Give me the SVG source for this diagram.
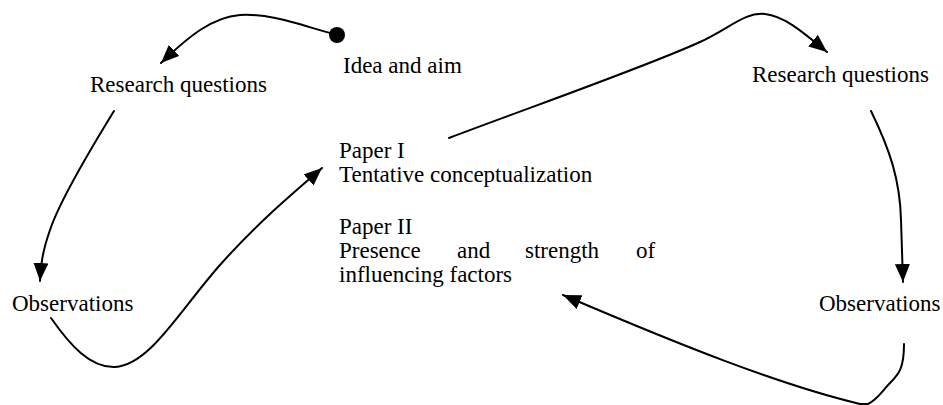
<svg xmlns="http://www.w3.org/2000/svg" width="943" height="405" viewBox="0 0 943 405">
<style>
text{font-family:"Liberation Serif","Times New Roman",serif;font-size:23px;fill:#000}
.c{fill:none;stroke:#000;stroke-width:2;stroke-linecap:round;stroke-linejoin:round}
</style>
<defs>
<marker id="ah" viewBox="0 0 18 15" refX="18" refY="7.5" markerWidth="18" markerHeight="15" markerUnits="userSpaceOnUse" orient="auto">
<path d="M0,0 L18,7.5 L0,15 z" fill="#000"/>
</marker>
</defs>
<rect width="943" height="405" fill="#fff"/>
<g id="idea"><circle cx="337" cy="35" r="8" fill="#000"/><text x="343" y="73">Idea and aim</text></g>
<g id="rq-left"><text x="90" y="92">Research questions</text></g>
<g id="obs-left"><text x="12" y="311">Observations</text></g>
<g id="paper1"><text x="339" y="158">Paper I</text><text x="339" y="182">Tentative conceptualization</text></g>
<g id="paper2"><text x="339" y="234">Paper II</text><text y="258"><tspan x="339">Presence</tspan><tspan x="457">and</tspan><tspan x="525">strength</tspan><tspan x="636">of</tspan></text><text x="339" y="282">influencing factors</text></g>
<g id="rq-right"><text x="752" y="82">Research questions</text></g>
<g id="obs-right"><text x="819" y="311">Observations</text></g>
<g id="connectors">
<path class="c" d="M337,35 C300,25 270,13 240,15 C212,17 188,37 161,63" marker-end="url(#ah)"/>
<path class="c" d="M114,111 C90,150 60,200 50,230 C43,250 41,262 40,281" marker-end="url(#ah)"/>
<path class="c" d="M51,318 C70,345 90,368 115,367 C150,365 180,310 220,265 C260,220 295,192 322,168" marker-end="url(#ah)"/>
<path class="c" d="M449,138 C550,100 650,65 700,42 C730,28 745,12 765,14 C785,16 805,34 827,52" marker-end="url(#ah)"/>
<path class="c" d="M871,111 C890,150 900,180 901,220 L903,282" marker-end="url(#ah)"/>
<path class="c" d="M904,344 C904,368 899,374 890,383 C882,391 878,399 868,404 L860,404 C780,385 680,345 563,295" marker-end="url(#ah)"/>
</g>
</svg>
